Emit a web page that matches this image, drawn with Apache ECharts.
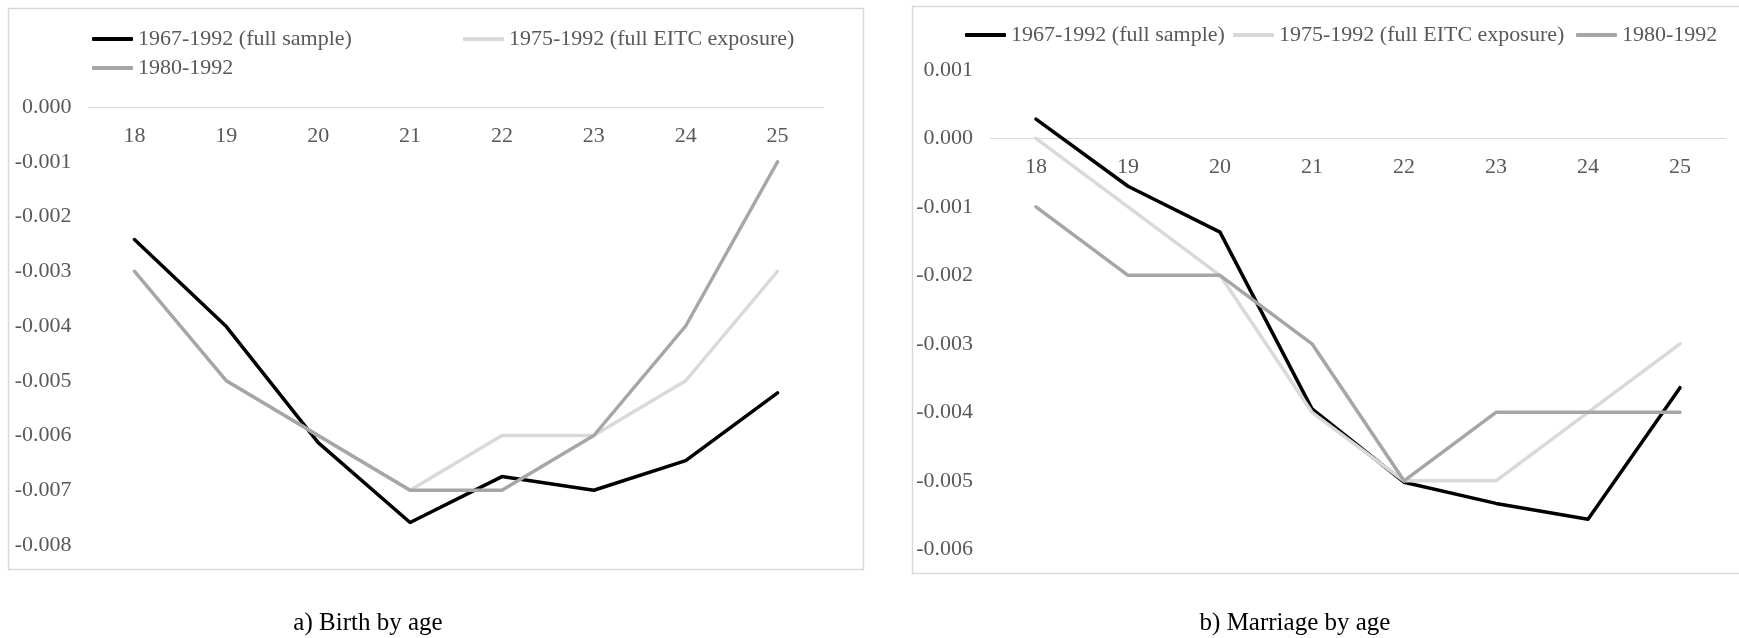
<!DOCTYPE html>
<html>
<head>
<meta charset="utf-8">
<script src="https://cdn.jsdelivr.net/npm/echarts@6/dist/echarts.min.js"></script>
<style>
  html, body { margin: 0; padding: 0; background: #ffffff; }
  #chart { width: 1739px; height: 638px; }
</style>
</head>
<body>
<div id="chart"></div>
<script>
// Ages on the horizontal axis of both panels
const ages = ['18', '19', '20', '21', '22', '23', '24', '25'];

const seriesNames = ['1967-1992 (full sample)', '1975-1992 (full EITC exposure)', '1980-1992'];
const seriesColors = ['#000000', '#d9d9d9', '#a6a6a6'];

// Panel a) Birth by age
const birthFull   = [-0.00242, -0.00401, -0.00613, -0.00759, -0.00675, -0.00700, -0.00646, -0.00522];
const birthEitc   = [-0.003, -0.005, -0.006, -0.007, -0.006, -0.006, -0.005, -0.003];
const birth1980   = [-0.003, -0.005, -0.006, -0.007, -0.007, -0.006, -0.004, -0.001];

// Panel b) Marriage by age
const marriageFull = [0.00028, -0.00070, -0.00137, -0.00395, -0.00502, -0.00533, -0.00556, -0.00364];
const marriageEitc = [0.000, -0.001, -0.002, -0.004, -0.005, -0.005, -0.004, -0.003];
const marriage1980 = [-0.001, -0.002, -0.002, -0.003, -0.005, -0.004, -0.004, -0.004];

const panelCaptions = ['a) Birth by age', 'b) Marriage by age'];

const FONT = '"Liberation Serif", "Times New Roman", serif';
const LABEL_COLOR = '#595959';
const RULE_COLOR = '#d9d9d9';

// Plot boxes of the two panels
const grids = [
  { left: 88.5, width: 735, top: 107, height: 438, min: -0.008, max: 0 },
  { left: 990, width: 736, top: 69.8, height: 479.5, min: -0.006, max: 0.001 }
];

const chart = echarts.init(document.getElementById('chart'), null, { renderer: 'canvas' });

// The category axis sits on the zero line, with its labels hanging beneath it
function xAxisFor(gridIndex) {
  const g = grids[gridIndex];
  const zeroFromTop = g.height * g.max / (g.max - g.min);
  return {
    type: 'category',
    gridIndex: gridIndex,
    data: ages,
    boundaryGap: true,
    position: 'top',
    offset: -zeroFromTop,
    axisLine: { show: true, onZero: false, lineStyle: { color: RULE_COLOR, width: 1 } },
    axisTick: { show: false },
    splitLine: { show: false },
    axisLabel: { inside: true, color: LABEL_COLOR, fontFamily: FONT, fontSize: 22, margin: 18 }
  };
}

function yAxisFor(gridIndex) {
  const g = grids[gridIndex];
  return {
    type: 'value',
    gridIndex: gridIndex,
    min: g.min,
    max: g.max,
    interval: 0.001,
    axisLine: { show: false },
    axisTick: { show: false },
    splitLine: { show: false },
    axisLabel: {
      color: LABEL_COLOR, fontFamily: FONT, fontSize: 22, margin: 17,
      formatter: v => (Math.abs(v) < 1e-9 ? 0 : v).toFixed(3)
    }
  };
}

function lineSeries(name, data, colorIdx, axisIdx) {
  return {
    type: 'line',
    name: name,
    data: data,
    xAxisIndex: axisIdx,
    yAxisIndex: axisIdx,
    symbol: 'none',
    smooth: false,
    animation: false,
    color: seriesColors[colorIdx],
    lineStyle: { color: seriesColors[colorIdx], width: 3.5, cap: 'round', join: 'round' }
  };
}

function legendItem(name, left, centerY) {
  return {
    data: [name],
    left: left,
    top: centerY - 11,
    padding: 0,
    icon: 'roundRect',
    itemWidth: 41,
    itemHeight: 4,
    itemGap: 0,
    selectedMode: false,
    textStyle: { color: LABEL_COLOR, fontFamily: FONT, fontSize: 22, padding: [0, 0, 0, 0] }
  };
}

const option = {
  backgroundColor: '#ffffff',
  animation: false,
  grid: grids.map(g => ({ left: g.left, width: g.width, top: g.top, height: g.height })),
  xAxis: [xAxisFor(0), xAxisFor(1)],
  yAxis: [yAxisFor(0), yAxisFor(1)],
  legend: [
    legendItem(seriesNames[0], 92, 39),
    legendItem(seriesNames[1], 463, 39),
    legendItem(seriesNames[2], 92, 68),
    legendItem(seriesNames[0], 965, 35),
    legendItem(seriesNames[1], 1233, 35),
    legendItem(seriesNames[2], 1576, 35)
  ],
  series: [
    lineSeries(seriesNames[0], birthFull, 0, 0),
    lineSeries(seriesNames[1], birthEitc, 1, 0),
    lineSeries(seriesNames[2], birth1980, 2, 0),
    lineSeries(seriesNames[0], marriageFull, 0, 1),
    lineSeries(seriesNames[1], marriageEitc, 1, 1),
    lineSeries(seriesNames[2], marriage1980, 2, 1)
  ],
  graphic: [
    // panel frames
    { type: 'rect', silent: true, z: -1,
      shape: { x: 8.5, y: 8.5, width: 855, height: 561 },
      style: { fill: null, stroke: RULE_COLOR, lineWidth: 1.5 } },
    { type: 'rect', silent: true, z: -1,
      shape: { x: 912.5, y: 6.5, width: 840, height: 567 },
      style: { fill: null, stroke: RULE_COLOR, lineWidth: 1.5 } },
    // panel captions
    { type: 'text', silent: true, x: 368, y: 623,
      style: { text: panelCaptions[0], fill: '#000000', font: '25px ' + FONT, align: 'center', verticalAlign: 'middle' } },
    { type: 'text', silent: true, x: 1295, y: 623,
      style: { text: panelCaptions[1], fill: '#000000', font: '25px ' + FONT, align: 'center', verticalAlign: 'middle' } }
  ]
};

chart.setOption(option);
</script>
</body>
</html>
